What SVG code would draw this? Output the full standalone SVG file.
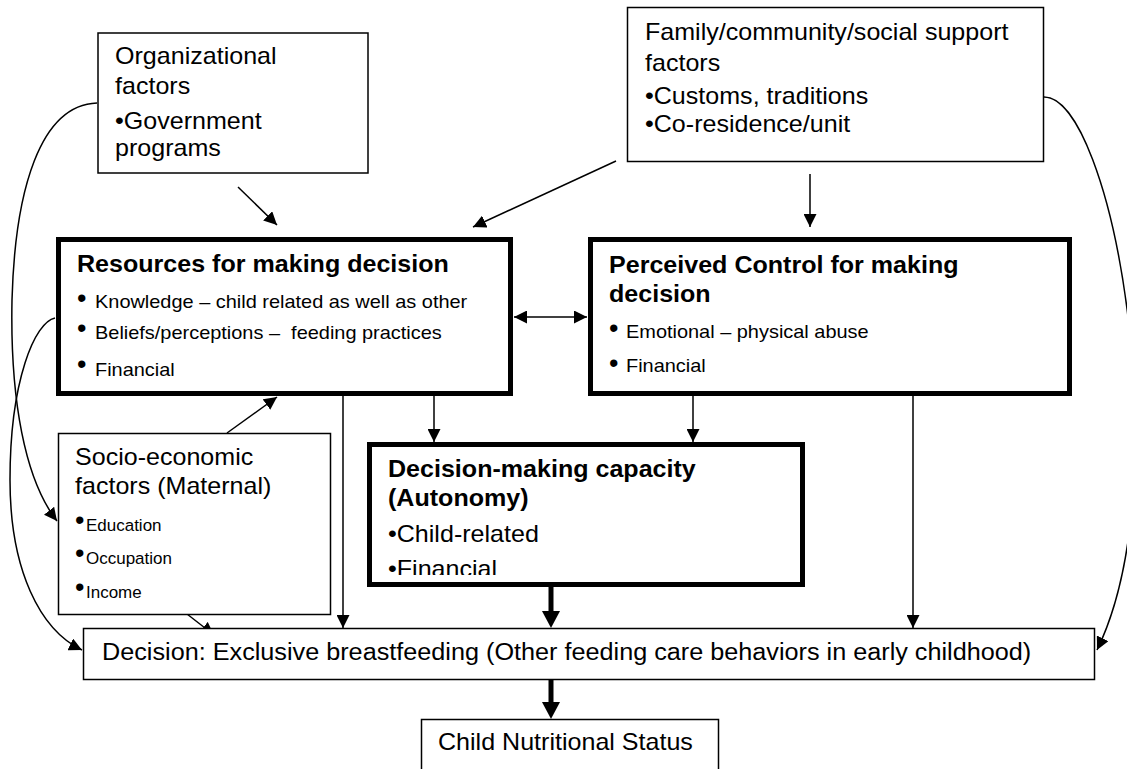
<svg xmlns="http://www.w3.org/2000/svg" width="1127" height="769" viewBox="0 0 1127 769">
<style>
.box{fill:#fff;stroke:#000;stroke-width:1.5}
.thick{fill:#fff;stroke:#000;stroke-width:5}
.t{font-family:"Liberation Sans",Arial,Helvetica,sans-serif;font-size:23px;fill:#000}
.b{font-weight:bold}
.s{font-size:18.3px}
.ss{font-size:15.6px}
.bul{font-family:"Liberation Sans",Arial,sans-serif;font-size:27px;fill:#000}
.c{fill:none;stroke:#000;stroke-width:1.5}
.tk{fill:none;stroke:#000;stroke-width:5}
</style>
<defs>
<marker id="ah" viewBox="0 0 13 13" refX="13" refY="6.5" markerWidth="13" markerHeight="13" markerUnits="userSpaceOnUse" orient="auto-start-reverse">
<path d="M0,0 L13,6.5 L0,13 z" fill="#000"/>
</marker>
<marker id="ahk" viewBox="0 0 17 18" refX="0" refY="9" markerWidth="17" markerHeight="18" markerUnits="userSpaceOnUse" orient="auto">
<path d="M0,0 L17,9 L0,18 z" fill="#000"/>
</marker>
<clipPath id="dmclip"><rect x="370" y="445" width="432" height="130"/></clipPath>
</defs>

<g id="connectors">
<path class="c" d="M238,187 L277,225" marker-end="url(#ah)"/>
<path class="c" d="M616,161 L473,227" marker-end="url(#ah)"/>
<path class="c" d="M810,174 L810,227" marker-end="url(#ah)"/>
<path class="c" d="M514,317 L587,317" marker-start="url(#ah)" marker-end="url(#ah)"/>
<path class="c" d="M343,396 L343,628" marker-end="url(#ah)"/>
<path class="c" d="M434,396 L434,442" marker-end="url(#ah)"/>
<path class="c" d="M693,396 L693,442" marker-end="url(#ah)"/>
<path class="c" d="M913,396 L913,628" marker-end="url(#ah)"/>
<path class="c" d="M227,433 L277,397" marker-end="url(#ah)"/>
<path class="c" d="M187,614 L214,635" marker-end="url(#ah)"/>
<path class="tk" d="M551,587 L551,611" marker-end="url(#ahk)"/>
<path class="tk" d="M551,680 L551,702" marker-end="url(#ahk)"/>
<path class="c" d="M97,103 C40,105 15,190 12,300 C10,400 25,480 57,521" marker-end="url(#ah)"/>
<path class="c" d="M55,318 C35,322 10,380 10,480 C10,570 40,630 82,650" marker-end="url(#ah)"/>
<path class="c" d="M1044,97 C1112,97 1180,480 1097,650" marker-end="url(#ah)"/>
</g>

<g id="organizational">
<rect class="box" x="98" y="33" width="270" height="140"/>
<text class="t" transform="translate(115 0) scale(1.09 1)">
<tspan x="0" y="64">Organizational</tspan>
<tspan x="0" y="94">factors</tspan>
<tspan x="0" y="129">•Government</tspan>
<tspan x="0" y="156">programs</tspan>
</text>
</g>

<g id="family">
<rect class="box" x="627.5" y="7.5" width="416" height="154"/>
<text class="t" transform="translate(645 0) scale(1.09 1)">
<tspan x="0" y="40">Family/community/social support</tspan>
<tspan x="0" y="71">factors</tspan>
<tspan x="0" y="104">•Customs, traditions</tspan>
<tspan x="0" y="132">•Co-residence/unit</tspan>
</text>
</g>

<g id="resources">
<rect class="thick" x="58.5" y="239.5" width="452" height="154"/>
<text class="t b" transform="translate(77 0) scale(1.09 1)"><tspan x="0" y="272">Resources for making decision</tspan></text>
<text class="bul"><tspan x="77" y="307">•</tspan><tspan x="77" y="337">•</tspan><tspan x="77" y="373">•</tspan></text>
<text class="t s" transform="translate(95 0) scale(1.09 1)" xml:space="preserve">
<tspan x="0" y="308">Knowledge – child related as well as other</tspan>
<tspan x="0" y="339">Beliefs/perceptions –  feeding practices</tspan>
<tspan x="0" y="376">Financial</tspan>
</text>
</g>

<g id="perceived">
<rect class="thick" x="590.5" y="239.5" width="479" height="154"/>
<text class="t b" transform="translate(609 0) scale(1.09 1)">
<tspan x="0" y="273">Perceived Control for making</tspan>
<tspan x="0" y="302">decision</tspan>
</text>
<text class="bul"><tspan x="609" y="337">•</tspan><tspan x="609" y="372">•</tspan></text>
<text class="t s" transform="translate(626 0) scale(1.09 1)">
<tspan x="0" y="338">Emotional – physical abuse</tspan>
<tspan x="0" y="372">Financial</tspan>
</text>
</g>

<g id="decision-making">
<rect class="thick" x="369.5" y="444.5" width="433" height="140"/>
<g clip-path="url(#dmclip)">
<text class="t" transform="translate(388 0) scale(1.09 1)">
<tspan class="b" x="0" y="477">Decision-making capacity</tspan>
<tspan class="b" x="0" y="506">(Autonomy)</tspan>
<tspan x="0" y="542">•Child-related</tspan>
<tspan x="0" y="577">•Financial</tspan>
</text>
</g>
</g>

<g id="socio-economic">
<rect class="box" x="58.5" y="433.5" width="272" height="181"/>
<text class="t" transform="translate(75 0) scale(1.09 1)">
<tspan x="0" y="465">Socio-economic</tspan>
<tspan x="0" y="494">factors (Maternal)</tspan>
</text>
<text class="bul"><tspan x="75" y="529">•</tspan><tspan x="75" y="562">•</tspan><tspan x="75" y="596">•</tspan></text>
<text class="t ss" transform="translate(86 0) scale(1.09 1)">
<tspan x="0" y="531">Education</tspan>
<tspan x="0" y="564">Occupation</tspan>
<tspan x="0" y="598">Income</tspan>
</text>
</g>

<g id="decision">
<rect class="box" x="83.5" y="628.5" width="1011" height="51"/>
<text class="t" transform="translate(102 0) scale(1.097 1)"><tspan x="0" y="660">Decision: Exclusive breastfeeding (Other feeding care behaviors in early childhood)</tspan></text>
</g>

<g id="child-status">
<rect class="box" x="421.5" y="719.5" width="297" height="60"/>
<text class="t" transform="translate(438 0) scale(1.09 1)"><tspan x="0" y="750">Child Nutritional Status</tspan></text>
</g>
</svg>
